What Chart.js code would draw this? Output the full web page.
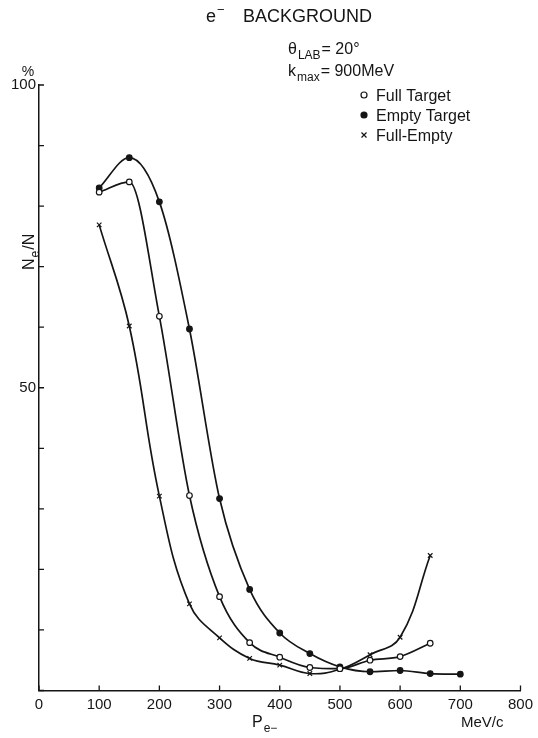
<!DOCTYPE html>
<html>
<head>
<meta charset="utf-8">
<title>e- background</title>
<script src="https://cdn.jsdelivr.net/npm/chart.js@4.4.1/dist/chart.umd.min.js"></script>
<style>
  html, body { margin: 0; padding: 0; background: #fff; }
</style>
</head>
<body>
<canvas id="bgChart" width="538" height="738"></canvas>
<script>
// electron momentum (MeV/c) and N_e/N (%) for each run
let fullP = [100, 150, 200, 250, 300, 350, 400, 450, 500, 550, 600, 650];
let fullPct = [82.3, 84.0, 61.8, 32.2, 15.5, 7.9, 5.5, 3.8, 3.6, 5.0, 5.6, 7.8];

let emptyP = [100, 150, 200, 250, 300, 350, 400, 450, 500, 550, 600, 650, 700];
let emptyPct = [83.0, 88.0, 80.7, 59.7, 31.7, 16.7, 9.5, 6.1, 3.9, 3.1, 3.3, 2.8, 2.7];

let diffP = [100, 150, 200, 250, 300, 350, 400, 450, 500, 550, 600, 650];
let diffPct = [76.9, 60.2, 32.1, 14.3, 8.7, 5.3, 4.2, 2.8, 3.5, 5.9, 8.8, 22.3];

let seriesNames = ['Full Target', 'Empty Target', 'Full-Empty'];
let yLabelled = [50, 100];

const FONT = "'Liberation Sans', Arial, sans-serif";
const INK = '#151515';

function toPoints(xs, ys) {
  return xs.map(function(x, i) { return { x: x, y: ys[i] }; });
}

// small marks pointing into the plot instead of outside ticks
const insideTicks = {
  id: 'insideTicks',
  afterDraw(chart) {
    let ctx = chart.ctx, xs = chart.scales.x, ys = chart.scales.y;
    ctx.save();
    ctx.strokeStyle = INK;
    ctx.lineWidth = 1.3;
    ctx.beginPath();
    xs.ticks.forEach(function(t) {
      let px = xs.getPixelForValue(t.value);
      ctx.moveTo(px, ys.bottom);
      ctx.lineTo(px, ys.bottom - 5);
    });
    ys.ticks.forEach(function(t) {
      let py = ys.getPixelForValue(t.value);
      ctx.moveTo(xs.left, py);
      ctx.lineTo(xs.left + 5, py);
    });
    ctx.stroke();
    ctx.restore();
  }
};

// text with a lowered (or raised) second part
function subText(ctx, x, y, main, sub, rest, size, raise) {
  ctx.font = size + 'px ' + FONT;
  ctx.fillText(main, x, y);
  x += ctx.measureText(main).width + 1;
  ctx.font = Math.round(size * 0.72) + 'px ' + FONT;
  ctx.fillText(sub, x, raise ? y - size * 0.45 : y + size * 0.3);
  x += ctx.measureText(sub).width + 1;
  if (rest) {
    ctx.font = size + 'px ' + FONT;
    ctx.fillText(rest, x, y);
  }
}

function drawMarker(ctx, style, x, y) {
  ctx.beginPath();
  if (style === 'crossRot') {
    ctx.moveTo(x - 2.5, y - 2.5); ctx.lineTo(x + 2.5, y + 2.5);
    ctx.moveTo(x + 2.5, y - 2.5); ctx.lineTo(x - 2.5, y + 2.5);
    ctx.stroke();
  } else {
    ctx.arc(x, y, 3, 0, Math.PI * 2);
    ctx.fill();
    ctx.stroke();
  }
}

// title, run conditions, legend and axis names
const textLayer = {
  id: 'textLayer',
  afterDraw(chart) {
    let ctx = chart.ctx;
    ctx.save();
    ctx.fillStyle = INK;
    ctx.textBaseline = 'alphabetic';
    ctx.textAlign = 'left';

    subText(ctx, 206, 22, 'e', '\u2212', '', 18, true);
    ctx.font = '18px ' + FONT;
    ctx.fillText('BACKGROUND', 243, 22);

    subText(ctx, 288, 54, '\u03b8', 'LAB', '= 20\u00b0', 16, false);
    subText(ctx, 288, 76, 'k', 'max', '= 900MeV', 16, false);

    chart.data.datasets.forEach(function(ds, i) {
      let y = 95 + i * 20;
      ctx.strokeStyle = INK;
      ctx.lineWidth = 1.2;
      ctx.fillStyle = ds.pointBackgroundColor;
      drawMarker(ctx, ds.pointStyle, 364, y);
      ctx.fillStyle = INK;
      ctx.font = '16px ' + FONT;
      ctx.fillText(ds.label, 376, y + 6);
    });

    ctx.font = '14px ' + FONT;
    ctx.textAlign = 'center';
    ctx.fillText('%', 28, 76);

    // y axis name, turned upright
    ctx.save();
    ctx.translate(34, 250);
    ctx.rotate(-Math.PI / 2);
    ctx.textAlign = 'left';
    subText(ctx, -20, 0, 'N', 'e', '/N', 16, false);
    ctx.restore();

    ctx.textAlign = 'left';
    subText(ctx, 252, 727, 'P', 'e\u2212', '', 16, false);
    ctx.font = '15px ' + FONT;
    ctx.fillText('MeV/c', 461, 727);
    ctx.restore();
  }
};

function makeSeries(name, xs, ys, style, fill, smooth) {
  return {
    label: name,
    data: toPoints(xs, ys),
    showLine: true,
    cubicInterpolationMode: smooth,
    tension: 0.4,
    borderColor: INK,
    borderWidth: 1.7,
    pointStyle: style,
    pointRadius: style === 'crossRot' ? 3.2 : 2.8,
    pointBorderWidth: 1.2,
    pointBorderColor: INK,
    pointBackgroundColor: fill
  };
}

new Chart(document.getElementById('bgChart'), {
  type: 'scatter',
  data: {
    datasets: [
      makeSeries(seriesNames[0], fullP, fullPct, 'circle', '#fff', 'monotone'),
      makeSeries(seriesNames[1], emptyP, emptyPct, 'circle', INK, 'monotone'),
      makeSeries(seriesNames[2], diffP, diffPct, 'crossRot', INK, 'default')
    ]
  },
  options: {
    responsive: false,
    animation: false,
    layout: { padding: { top: 85, right: 13, left: 0, bottom: 0 } },
    plugins: {
      legend: { display: false },
      tooltip: { enabled: false }
    },
    scales: {
      x: {
        type: 'linear',
        min: 0,
        max: 800,
        ticks: { stepSize: 100, color: INK, padding: 5, font: { family: FONT, size: 15 } },
        grid: { display: false, drawTicks: false },
        border: { color: INK, width: 1.5 },
        afterFit(scale) { scale.height = 47.5; }
      },
      y: {
        min: 0,
        max: 100,
        ticks: {
          stepSize: 10,
          color: INK,
          padding: 3,
          font: { family: FONT, size: 15 },
          callback: function(v) { return yLabelled.indexOf(v) >= 0 ? v : ''; }
        },
        grid: { display: false, drawTicks: false },
        border: { color: INK, width: 1.5 },
        afterFit(scale) { scale.width = 39; }
      }
    }
  },
  plugins: [insideTicks, textLayer]
});
</script>
</body>
</html>
